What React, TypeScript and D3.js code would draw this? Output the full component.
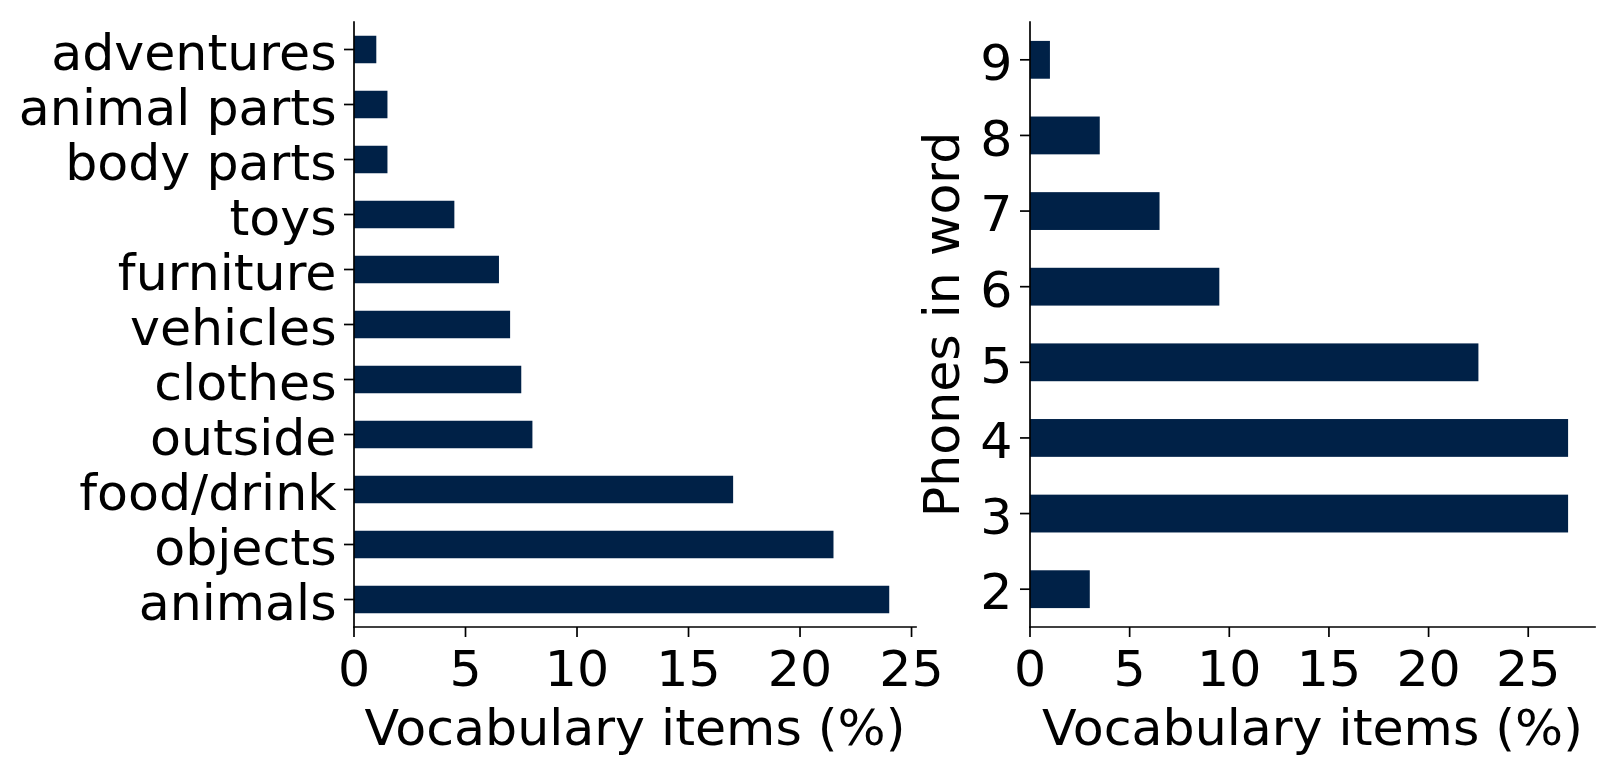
import React from "react";
import * as d3 from "d3";

const topicCategories = ["animals", "objects", "food/drink", "outside", "clothes", "vehicles", "furniture", "toys", "body parts", "animal parts", "adventures"];
const topicValues = [24, 21.5, 17, 8, 7.5, 7, 6.5, 4.5, 1.5, 1.5, 1];

const phoneCategories = ["2", "3", "4", "5", "6", "7", "8", "9"];
const phoneValues = [3, 27, 27, 22.5, 9.5, 6.5, 3.5, 1];

const xTicks = [0, 5, 10, 15, 20, 25];
const xLabel = "Vocabulary items (%)";
const rightYLabel = "Phones in word";

const W = 1617;
const H = 774;
const FONT = "'DejaVu Sans', sans-serif";
const FS = 50.6;
const BAR = "#002147";
const TICK = 10;
const PAD = 7.5;

type PanelProps = {
  cats: string[];
  vals: number[];
  x0: number;
  x1: number;
  yTop: number;
  yBot: number;
  yLabel?: string;
  yLabelX?: number;
};

function Panel({ cats, vals, x0, x1, yTop, yBot, yLabel, yLabelX }: PanelProps) {
  const maxV = d3.max(vals) as number;
  const x = d3.scaleLinear().domain([0, maxV * 1.05]).range([x0, x1]);
  const n = cats.length;
  const y = d3.scaleLinear().domain([-0.5, n - 0.5]).range([yBot, yTop]);
  const bh = Math.abs(y(0.25) - y(-0.25));
  return (
    <g>
      {vals.map((v, i) => (
        <rect key={i} x={x(0)} y={y(i + 0.25)} width={x(v) - x(0)} height={bh} fill={BAR} />
      ))}
      <line x1={x0} x2={x0} y1={yTop} y2={yBot} stroke="#000" strokeWidth={1.7} strokeLinecap="square" />
      <line x1={x0} x2={x1} y1={yBot} y2={yBot} stroke="#000" strokeWidth={1.7} strokeLinecap="square" />
      {cats.map((c, i) => (
        <g key={c}>
          <line x1={x0 - TICK} x2={x0} y1={y(i)} y2={y(i)} stroke="#000" strokeWidth={1.7} />
          <text x={x0 - TICK - PAD} y={y(i)} dy="0.4em" textAnchor="end" fontFamily={FONT} fontSize={FS} fill="#000">
            {c}
          </text>
        </g>
      ))}
      {xTicks.map((t) => (
        <g key={t}>
          <line x1={x(t)} x2={x(t)} y1={yBot} y2={yBot + TICK} stroke="#000" strokeWidth={1.7} />
          <text x={x(t)} y={yBot + 59} textAnchor="middle" fontFamily={FONT} fontSize={FS} fill="#000">
            {t}
          </text>
        </g>
      ))}
      <text x={(x0 + x1) / 2} y={yBot + 118} textAnchor="middle" fontFamily={FONT} fontSize={FS} fill="#000">
        {xLabel}
      </text>
      {yLabel && yLabelX !== undefined && (
        <text
          transform={`translate(${yLabelX},${(yTop + yBot) / 2}) rotate(-90)`}
          textAnchor="middle"
          fontFamily={FONT}
          fontSize={FS}
          fill="#000"
        >
          {yLabel}
        </text>
      )}
    </g>
  );
}

export default function App() {
  return (
    <svg
      width={W}
      height={H}
      viewBox={`0 0 ${W} ${H}`}
      style={{ position: "absolute", left: 0, top: 0, display: "block", background: "#fff" }}
    >
      <rect x={0} y={0} width={W} height={H} fill="#fff" />
      <Panel cats={topicCategories} vals={topicValues} x0={354} x1={916} yTop={22} yBot={627} />
      <Panel
        cats={phoneCategories}
        vals={phoneValues}
        x0={1030}
        x1={1595}
        yTop={22}
        yBot={627}
        yLabel={rightYLabel}
        yLabelX={959}
      />
    </svg>
  );
}
